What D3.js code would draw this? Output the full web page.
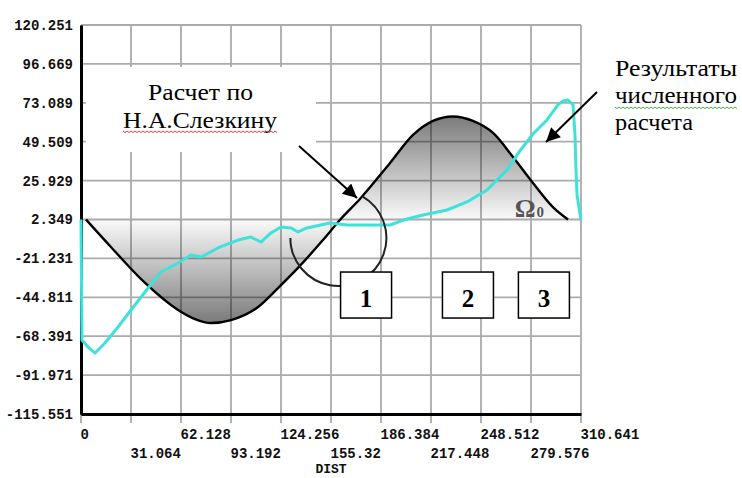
<!DOCTYPE html>
<html><head><meta charset="utf-8">
<script src="https://cdn.jsdelivr.net/npm/d3@7"></script>
<style>body{margin:0;background:#fff}svg{display:block}</style>
</head><body>
<svg id="c" width="742" height="478"></svg>
<script>
// ---- data ----
const xTickValues = [0, 31.064, 62.128, 93.192, 124.256, 155.32, 186.384, 217.448, 248.512, 279.576, 310.641];
const xTickLabels = ["0", "31.064", "62.128", "93.192", "124.256", "155.32", "186.384", "217.448", "248.512", "279.576", "310.641"];
const yTickValues = [120.251, 96.669, 73.089, 49.509, 25.929, 2.349, -21.231, -44.811, -68.391, -91.971, -115.551];
const yTickLabels = ["120.251", "96.669", "73.089", "49.509", "25.929", "2.349", "-21.231", "-44.811", "-68.391", "-91.971", "-115.551"];
const baseValue = 2.349;

// Analytical curve (N.A. Slezkin)
const slezkinX = [3.1, 18.6, 39.8, 60.3, 70.8, 80.8, 93.2, 110.0, 122.4, 134.8, 150.3, 161.1, 173.3, 192.0, 206.3, 218.7, 231.1, 243.5, 256.0, 268.4, 280.8, 293.2, 302.6];
const slezkinY = [2.349, -14.3, -36.1, -52.5, -58.0, -60.4, -58.6, -50.7, -39.2, -27.0, -10.1, 2.349, 14.8, 36.6, 53.6, 62.1, 64.8, 62.1, 54.8, 40.2, 24.5, 9.9, 2.349];

// Numerical results
const numericX = [0, 0.6, 4.3, 8.7, 14.9, 23.0, 31.1, 39.8, 49.7, 60.3, 68.3, 74.6, 85.1, 97.5, 105.6, 111.8, 118.0, 124.3, 130.5, 134.8, 140.4, 154.7, 165.3, 177.7, 192.0, 202.5, 212.5, 227.4, 239.8, 252.2, 264.7, 272.7, 280.8, 289.5, 296.3, 299.5, 302.6, 305.7, 306.9, 307.5, 308.2, 310.6];
const numericY = [2.3, -70.7, -74.9, -78.6, -72.5, -62.8, -52.5, -41.6, -29.5, -24.0, -19.2, -20.4, -14.9, -10.1, -8.3, -11.3, -5.8, -2.2, -2.8, -5.2, -2.8, 0.2, -1.0, -1.0, -1.0, 2.7, 5.1, 8.1, 13.0, 20.2, 32.4, 43.9, 54.2, 62.7, 71.8, 74.2, 74.8, 71.8, 53.6, 33.6, 17.2, 2.0];

const boxLabels = ["1", "2", "3"];
const boxCenters = [177.1, 240.4, 287.6]; // in DIST units
const leftNoteLines = ["Расчет по", "Н.А.Слезкину"];
const rightNoteLines = ["Результаты", "численного", "расчета"];

// ---- layout ----
const svg = d3.select("#c");
const x = d3.scaleLinear().domain([0, 310.641]).range([81, 581]);
const y = d3.scaleLinear().domain([-115.551, 120.251]).range([414, 25]);
const mono = "'Liberation Mono','Courier New',monospace";
const serif = "'Liberation Serif','Times New Roman',serif";

const defs = svg.append("defs");
function grad(id, yFrom, yTo, op) {
  const g = defs.append("linearGradient").attr("id", id)
    .attr("gradientUnits", "userSpaceOnUse")
    .attr("x1", 0).attr("x2", 0).attr("y1", yFrom).attr("y2", yTo);
  g.append("stop").attr("offset", 0).attr("stop-color", "#000").attr("stop-opacity", 0.02);
  g.append("stop").attr("offset", 1).attr("stop-color", "#000").attr("stop-opacity", op);
}
grad("gLow", y(baseValue), y(d3.min(slezkinY)), 0.52);
grad("gUp", y(baseValue), y(d3.max(slezkinY)), 0.52);
defs.append("marker").attr("id", "arr").attr("viewBox", "0 0 10 10")
  .attr("refX", 10).attr("refY", 5).attr("markerWidth", 17).attr("markerHeight", 14)
  .attr("markerUnits", "userSpaceOnUse").attr("orient", "auto")
  .append("path").attr("d", "M0,0L10,5L0,10Z").attr("fill", "#000");

// grid
const grid = svg.append("g").attr("stroke", "#ababab").attr("stroke-width", 1.8);
grid.selectAll(".v").data(xTickValues).join("line")
  .attr("x1", d => x(d)).attr("x2", d => x(d))
  .attr("y1", y(120.251)).attr("y2", y(-115.551) + 9);
grid.selectAll(".h").data(yTickValues).join("line")
  .attr("x1", x(0)).attr("x2", x(310.641))
  .attr("y1", d => y(d)).attr("y2", d => y(d));

// shaded lobes
const pts = slezkinX.map((v, i) => [v, slezkinY[i]]);
const mid = slezkinY.indexOf(baseValue, 1);
const area = d3.area().x(d => x(d[0])).y0(y(baseValue)).y1(d => y(d[1])).curve(d3.curveMonotoneX);
svg.append("path").attr("d", area(pts.slice(0, mid + 1))).attr("fill", "url(#gLow)");
svg.append("path").attr("d", area(pts.slice(mid))).attr("fill", "url(#gUp)");

// axes
const yAxis = svg.append("g").attr("transform", `translate(${x(0)},0)`)
  .call(d3.axisLeft(y).tickValues(yTickValues).tickFormat((d, i) => yTickLabels[i]).tickSize(0).tickPadding(8).tickSizeOuter(0));
yAxis.select(".domain").attr("stroke", "#000").attr("stroke-width", 3);
yAxis.selectAll("text").attr("font-family", mono).attr("font-weight", "bold").attr("font-size", 14).attr("fill", "#111");

const xAxis = svg.append("g").attr("transform", `translate(0,${y(-115.551)})`)
  .call(d3.axisBottom(x).tickValues(xTickValues).tickFormat((d, i) => xTickLabels[i]).tickSize(0).tickSizeOuter(0));
xAxis.select(".domain").attr("stroke", "#000").attr("stroke-width", 3);
xAxis.selectAll("text").attr("font-family", mono).attr("font-weight", "bold").attr("font-size", 14).attr("fill", "#111")
  .attr("text-anchor", "start").attr("x", -1).attr("dy", 0).attr("y", (d, i) => i % 2 ? 44 : 25);
svg.append("text").attr("x", x(155.32)).attr("y", 473).attr("text-anchor", "middle")
  .attr("font-family", mono).attr("font-weight", "bold").attr("font-size", 13).attr("fill", "#111").text("DIST");

// curves
const line = d3.line().x(d => x(d[0])).y(d => y(d[1]));
svg.append("path").attr("d", line.curve(d3.curveMonotoneX)(pts))
  .attr("fill", "none").attr("stroke", "#000").attr("stroke-width", 2.4);
const npts = numericX.map((v, i) => [v, numericY[i]]);
svg.append("path").attr("d", d3.line().x(d => x(d[0])).y(d => y(d[1]))(npts))
  .attr("fill", "none").attr("stroke", "#3fe2da").attr("stroke-width", 3).attr("stroke-linejoin", "round");

// annotation: arc around crossing
const cx = x(159.9), cy = y(-8.8), r = 48;
const a0 = Math.PI, a1 = -Math.PI / 3;
svg.append("path")
  .attr("d", `M${cx + r * Math.cos(a0)},${cy + r * Math.sin(a0)} A${r},${r} 0 1 0 ${cx + r * Math.cos(a1)},${cy + r * Math.sin(a1)}`)
  .attr("fill", "none").attr("stroke", "#222").attr("stroke-width", 2);

// numbered boxes
const bw = 51, bh = 46, by = y(-29.5);
const bx = svg.append("g");
boxLabels.forEach((t, i) => {
  const c = x(boxCenters[i]);
  bx.append("rect").attr("x", c - bw / 2).attr("y", by).attr("width", bw).attr("height", bh)
    .attr("fill", "#fff").attr("stroke", "#000").attr("stroke-width", 1.5);
  bx.append("text").attr("x", c).attr("y", by + 35).attr("text-anchor", "middle")
    .attr("font-family", serif).attr("font-weight", "bold").attr("font-size", 25).attr("fill", "#000").text(t);
});

// Omega label
const om = svg.append("text").attr("x", x(269.5)).attr("y", y(4.0)).attr("font-family", serif)
  .attr("font-weight", "bold").attr("fill", "#555");
om.append("tspan").attr("font-size", 26).text("Ω");
om.append("tspan").attr("font-size", 15).attr("dx", 1).text("0");

// left note box
svg.append("rect").attr("x", 86).attr("y", 67).attr("width", 230).attr("height", 85).attr("fill", "#fff");
svg.append("text").attr("x", 148).attr("y", 100).attr("textLength", 105).attr("lengthAdjust", "spacingAndGlyphs")
  .attr("font-family", serif).attr("font-size", 23).attr("fill", "#000").text(leftNoteLines[0]);
svg.append("text").attr("x", 123).attr("y", 128).attr("textLength", 154).attr("lengthAdjust", "spacingAndGlyphs")
  .attr("font-family", serif).attr("font-size", 23).attr("fill", "#000").text(leftNoteLines[1]);
function wavy(x0, x1, yy, color) {
  let d = `M${x0},${yy}`;
  for (let xx = x0 + 2, k = 0; xx <= x1; xx += 2, k++) d += `L${xx},${yy + (k % 2 ? 0 : 1.6)}`;
  svg.append("path").attr("d", d).attr("fill", "none").attr("stroke", color).attr("stroke-width", 1);
}
wavy(123, 277, 131, "#e23a3a");

// right note
const rightWidths = [122, 122, 78];
rightNoteLines.forEach((t, i) => {
  svg.append("text").attr("x", 615).attr("y", 76 + i * 27)
    .attr("textLength", rightWidths[i]).attr("lengthAdjust", "spacingAndGlyphs")
    .attr("font-family", serif).attr("font-size", 23).attr("fill", "#000").text(t);
});
wavy(615, 737, 107, "#4aa64a");

// arrows
svg.append("line").attr("x1", 299).attr("y1", 146).attr("x2", 357).attr("y2", 198)
  .attr("stroke", "#000").attr("stroke-width", 2).attr("marker-end", "url(#arr)");
svg.append("line").attr("x1", 597).attr("y1", 92).attr("x2", 546).attr("y2", 142)
  .attr("stroke", "#000").attr("stroke-width", 2).attr("marker-end", "url(#arr)");
</script>
</body></html>
